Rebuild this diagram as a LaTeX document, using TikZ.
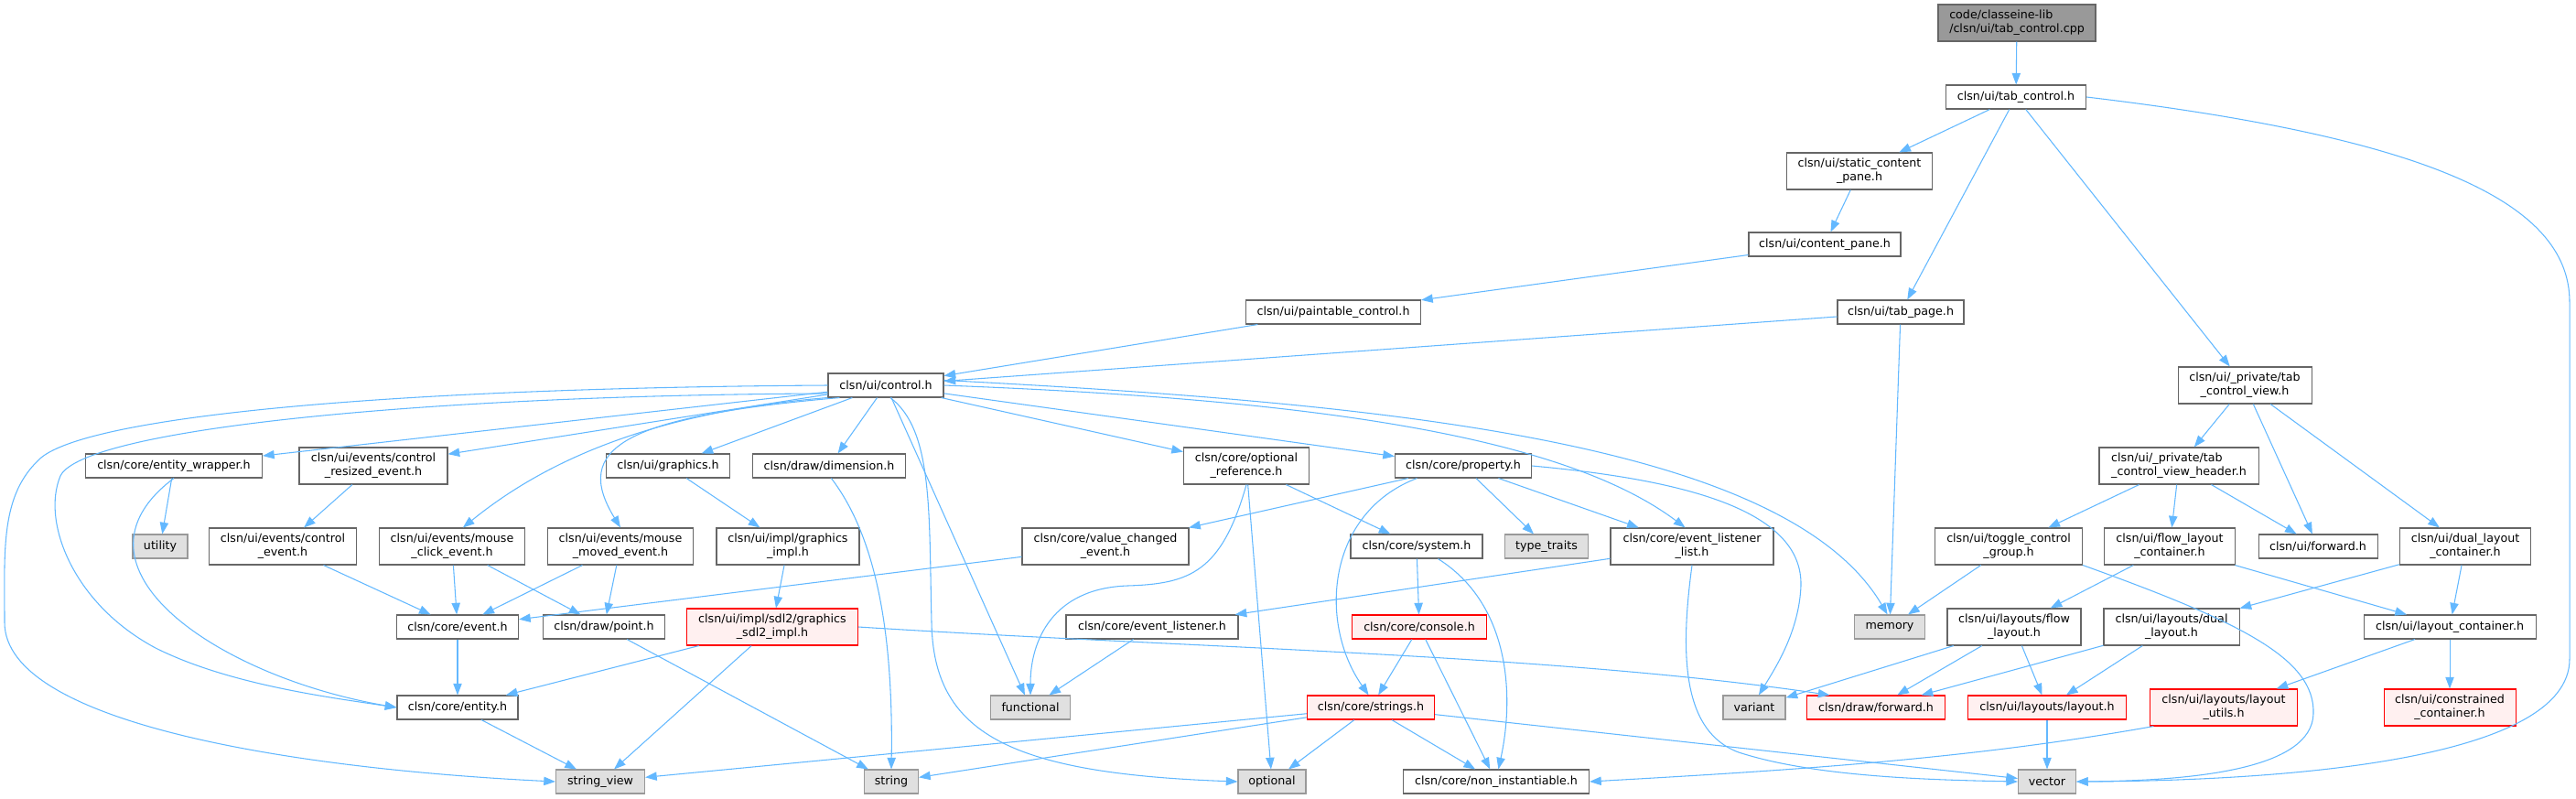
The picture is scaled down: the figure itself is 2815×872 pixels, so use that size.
\documentclass[tikz,border=0pt]{standalone}
\usepackage{xcolor}
\usepackage{fontspec}
\setmainfont{DejaVu Sans}
\usepackage{tikz}
\usetikzlibrary{arrows.meta}

\definecolor{edgeblue}{HTML}{63B8FF}
\definecolor{hdrline}{HTML}{666666}
\definecolor{sysfill}{HTML}{E0E0E0}
\definecolor{sysline}{HTML}{999999}
\definecolor{redfill}{HTML}{FFF0F0}
\definecolor{rootfill}{HTML}{999999}

\begin{document}
\begin{tikzpicture}[x=0.75pt,y=-0.75pt,
		hdr/.style={draw=hdrline,fill=white,line width=0.8pt,inner sep=0pt,minimum height=19.5pt,font=\fontsize{9.5}{11}\selectfont,align=center},
		tall/.style={minimum height=30pt},
		bw/.style={minimum width=#1*0.75pt},
		sys/.style={hdr,draw=sysline,fill=sysfill},
		redbox/.style={hdr,draw=red,fill=redfill},
		root/.style={hdr,fill=rootfill,tall,align=left},
		dep/.style={draw=edgeblue,line width=0.8pt,-{Triangle[length=9.5pt,width=7pt]}}]
			
			\useasboundingbox (0,0) rectangle (2815,872);
			
			\node[root,bw=172] (root) at (2204,25) {code/classeine-lib\\/clsn/ui/tab\_control.cpp};
			\node[hdr,bw=153] (tabctl) at (2203,106) {clsn/ui/tab\_control.h};
			\node[hdr,tall,bw=159] (staticpane) at (2032,187) {clsn/ui/static\_content\\\_pane.h};
			\node[hdr,bw=166] (contentpane) at (1994,267) {clsn/ui/content\_pane.h};
			\node[hdr,bw=191] (paintable) at (1457,341) {clsn/ui/paintable\_control.h};
			\node[hdr,bw=138] (tabpage) at (2077,341) {clsn/ui/tab\_page.h};
			\node[hdr,bw=126] (control) at (968,421) {clsn/ui/control.h};
			\node[hdr,tall,bw=146] (viewh) at (2453,421) {clsn/ui/\_private/tab\\\_control\_view.h};
			
			\node[hdr,bw=193] (wrapper) at (190,509) {clsn/core/entity\_wrapper.h};
			\node[hdr,tall,bw=162] (resized) at (408,509) {clsn/ui/events/control\\\_resized\_event.h};
			\node[hdr,bw=135] (graphics) at (730,509) {clsn/ui/graphics.h};
			\node[hdr,bw=167] (dimension) at (906,509) {clsn/draw/dimension.h};
			\node[hdr,tall,bw=137] (optref) at (1362,509) {clsn/core/optional\\\_reference.h};
			\node[hdr,bw=149] (property) at (1599,509) {clsn/core/property.h};
			\node[hdr,tall,bw=174,align=left] (header) at (2381,509) {clsn/ui/\_private/tab\\\_control\_view\_header.h};
			
			\node[sys,bw=60] (utility) at (175,597) {utility};
			\node[hdr,tall,bw=161] (ctlevent) at (309,597) {clsn/ui/events/control\\\_event.h};
			\node[hdr,tall,bw=159] (click) at (494,597) {clsn/ui/events/mouse\\\_click\_event.h};
			\node[hdr,tall,bw=159] (moved) at (678,597) {clsn/ui/events/mouse\\\_moved\_event.h};
			\node[hdr,tall,bw=156] (gimpl) at (861,597) {clsn/ui/impl/graphics\\\_impl.h};
			\node[hdr,tall,bw=182] (valchg) at (1208,597) {clsn/core/value\_changed\\\_event.h};
			\node[hdr,bw=144] (system) at (1548,597) {clsn/core/system.h};
			\node[sys,bw=91] (traits) at (1690,597) {type\_traits};
			\node[hdr,tall,bw=178] (listlist) at (1849,597) {clsn/core/event\_listener\\\_list.h};
			\node[hdr,tall,bw=161] (toggle) at (2195,597) {clsn/ui/toggle\_control\\\_group.h};
			\node[hdr,tall,bw=143] (flowcont) at (2371,597) {clsn/ui/flow\_layout\\\_container.h};
			\node[hdr,bw=130] (uifwd) at (2533,597) {clsn/ui/forward.h};
			\node[hdr,tall,bw=143] (dualcont) at (2694,597) {clsn/ui/dual\_layout\\\_container.h};
			
			\node[hdr,bw=133] (event) at (500,685) {clsn/core/event.h};
			\node[hdr,bw=133] (point) at (660,685) {clsn/draw/point.h};
			\node[redbox,tall,bw=187] (sdl) at (844,685) {clsn/ui/impl/sdl2/graphics\\\_sdl2\_impl.h};
			\node[hdr,bw=188] (listener) at (1259,685) {clsn/core/event\_listener.h};
			\node[redbox,bw=147] (console) at (1551,685) {clsn/core/console.h};
			\node[sys,bw=77] (memory) at (2065,685) {memory};
			\node[hdr,tall,bw=146] (flow) at (2201,685) {clsn/ui/layouts/flow\\\_layout.h};
			\node[hdr,tall,bw=148] (dual) at (2373,685) {clsn/ui/layouts/dual\\\_layout.h};
			\node[hdr,bw=188] (laycont) at (2677,685) {clsn/ui/layout\_container.h};
			
			\node[hdr,bw=132] (entity) at (500,773) {clsn/core/entity.h};
			\node[sys,bw=87] (functional) at (1126,773) {functional};
			\node[redbox,bw=139] (strings) at (1498,773) {clsn/core/strings.h};
			\node[sys,bw=68] (variant) at (1917,773) {variant};
			\node[redbox,bw=151] (drawfwd) at (2050,773) {clsn/draw/forward.h};
			\node[redbox,bw=173] (layout) at (2237,773) {clsn/ui/layouts/layout.h};
			\node[redbox,tall,bw=161] (utils) at (2430,773) {clsn/ui/layouts/layout\\\_utils.h};
			\node[redbox,tall,bw=144] (constrained) at (2677,773) {clsn/ui/constrained\\\_container.h};
			
			\node[sys,bw=97] (strview) at (656,854) {string\_view};
			\node[sys,bw=59] (string) at (974,854) {string};
			\node[sys,bw=74] (optional) at (1390,854) {optional};
			\node[hdr,bw=203] (noninst) at (1635,854) {clsn/core/non\_instantiable.h};
			\node[sys,bw=63] (vector) at (2237,854) {vector};
			
			\draw[dep] (root) -- (tabctl);
			\draw[dep] (tabctl) -- (staticpane);
			\draw[dep] (tabctl) -- (tabpage);
			\draw[dep] (tabctl) -- (viewh);
			\draw[dep] (tabctl.east) .. controls (2650,150) and (2808,220) .. (2808,330) -- (2808,720) .. controls (2808,830) and (2500,853) .. (vector.east);
			\draw[dep] (staticpane) -- (contentpane);
			\draw[dep] (contentpane) -- (paintable);
			\draw[dep] (paintable) -- (control);
			\draw[dep] (tabpage) -- (control);
			\draw[dep] (tabpage) -- (memory);
			
			\draw[dep] (viewh) -- (header);
			\draw[dep] (viewh) -- (uifwd);
			\draw[dep] (viewh) -- (dualcont);
			\draw[dep] (header) -- (toggle);
			\draw[dep] (header) -- (flowcont);
			\draw[dep] (header) -- (uifwd);
			\draw[dep] (toggle) -- (memory);
			\draw[dep] (toggle.south east) .. controls (2450,680) and (2530,720) .. (2528,780) .. controls (2526,840) and (2400,853) .. (vector.east);
			\draw[dep] (flowcont) -- (flow);
			\draw[dep] (flowcont) -- (laycont);
			\draw[dep] (dualcont) -- (dual);
			\draw[dep] (dualcont) -- (laycont);
			\draw[dep] (laycont) -- (utils);
			\draw[dep] (laycont) -- (constrained);
			\draw[dep] (flow) -- (variant);
			\draw[dep] (flow) -- (drawfwd);
			\draw[dep] (flow) -- (layout);
			\draw[dep] (dual) -- (drawfwd);
			\draw[dep] (dual) -- (layout);
			\draw[dep] (layout) -- (vector);
			\draw[dep] (utils.195) .. controls (2150,830) and (1950,842) .. (noninst.east);
			
			\draw[dep] (control.west) .. controls (420,424) and (100,455) .. (45,500) .. controls (0,540) and (5,600) .. (5,680) .. controls (5,790) and (320,840) .. (strview.west);
			\draw[dep] (control.188) .. controls (450,432) and (90,470) .. (66,520) .. controls (45,570) and (80,660) .. (170,708) .. controls (250,748) and (360,762) .. (entity.west);
			\draw[dep] (control) -- (wrapper);
			\draw[dep] (control) -- (resized);
			\draw[dep] (control.192) .. controls (720,450) and (600,500) .. (click.60);
			\draw[dep] (control.195) .. controls (680,455) and (625,490) .. (moved.north);
			\draw[dep] (control) -- (graphics);
			\draw[dep] (control) -- (dimension);
			\draw[dep] (control) -- (functional);
			\draw[dep] (control.290) .. controls (1020,470) and (1015,560) .. (1018,680) .. controls (1020,800) and (1100,845) .. (optional.west);
			\draw[dep] (control) -- (optref);
			\draw[dep] (control) -- (property);
			\draw[dep] (control.east) .. controls (1400,435) and (1700,470) .. (listlist.110);
			\draw[dep] (control.5) .. controls (1500,440) and (1950,480) .. (memory.100);
			
			\draw[dep] (wrapper) -- (utility);
			\draw[dep] (wrapper.south) .. controls (60,620) and (240,740) .. (entity.west);
			\draw[dep] (resized) -- (ctlevent);
			\draw[dep] (ctlevent) -- (event);
			\draw[dep] (click) -- (event);
			\draw[dep] (click) -- (point);
			\draw[dep] (moved) -- (event);
			\draw[dep] (moved) -- (point);
			\draw[dep] (graphics) -- (gimpl);
			\draw[dep] (gimpl) -- (sdl);
			\draw[dep] (dimension.-80) .. controls (960,590) and (976,700) .. (string.north);
			\draw[dep] (event) -- (entity);
			\draw[dep] (point) -- (string);
			\draw[dep] (sdl) -- (entity);
			\draw[dep] (sdl) -- (strview);
			\draw[dep] (sdl.east) .. controls (1300,708) and (1700,715) .. (drawfwd.165);
			\draw[dep] (entity) -- (strview);
			
			\draw[dep] (optref.south) .. controls (1335,625) and (1300,638) .. (1232,640) .. controls (1150,643) and (1126,700) .. (functional.north);
			\draw[dep] (optref) -- (optional);
			\draw[dep] (optref) -- (system);
			\draw[dep] (property) -- (valchg);
			\draw[dep] (property.195) .. controls (1450,560) and (1440,680) .. (strings.100);
			\draw[dep] (property) -- (traits);
			\draw[dep] (property) -- (listlist);
			\draw[dep] (property.east) .. controls (1850,525) and (1970,560) .. (1968,640) .. controls (1966,690) and (1940,730) .. (variant.70);
			\draw[dep] (valchg) -- (event);
			\draw[dep] (system) -- (console);
			\draw[dep] (system.-30) .. controls (1650,660) and (1655,760) .. (noninst.80);
			\draw[dep] (listlist) -- (listener);
			\draw[dep] (listlist.south) .. controls (1835,720) and (1840,800) .. (1900,822) .. controls (1980,848) and (2100,852) .. (vector.west);
			\draw[dep] (listener) -- (functional);
			\draw[dep] (console) -- (strings);
			\draw[dep] (console) -- (noninst);
			\draw[dep] (strings) -- (strview);
			\draw[dep] (strings) -- (string);
			\draw[dep] (strings) -- (optional);
			\draw[dep] (strings) -- (noninst);
			\draw[dep] (strings) -- (vector);
			
		\end{tikzpicture}
\end{document}
